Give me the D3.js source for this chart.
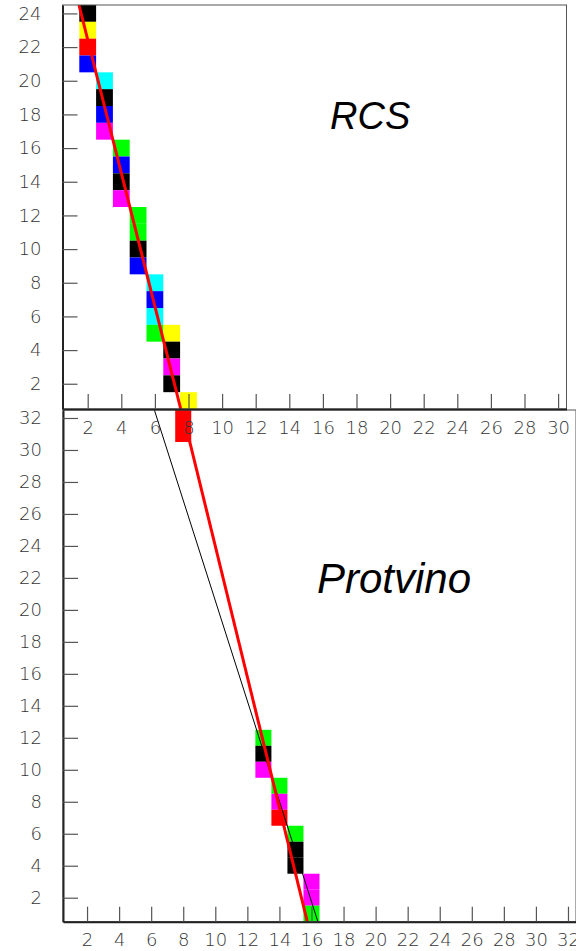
<!DOCTYPE html>
<html>
<head>
<meta charset="utf-8">
<script src="https://cdn.jsdelivr.net/npm/d3@7"></script>
<style>
  body { margin: 0; background: #fff; }
  svg { display: block; }
  .tick text { font-family: "DejaVu Sans", sans-serif; font-weight: 200; font-size: 18px; fill: #333; }
</style>
</head>
<body>
<svg id="chart" width="576" height="951"></svg>
<script>
// ROOT colour indices: 1 black, 2 red, 3 green, 4 blue, 5 yellow, 6 magenta, 7 cyan
const rootColors = {1: "#000000", 2: "#ff0000", 3: "#00ff00", 4: "#0000ff", 5: "#ffff00", 6: "#ff00ff", 7: "#00ffff"};

// RCS panel cells
const rcsCol = [2, 2, 2, 2, 3, 3, 3, 3, 4, 4, 4, 4, 5, 5, 5, 5, 6, 6, 6, 6, 7, 7, 7, 7, 8];
const rcsRow = [24, 23, 22, 21, 20, 19, 18, 17, 16, 15, 14, 13, 12, 11, 10, 9, 8, 7, 6, 5, 5, 4, 3, 2, 1];
const rcsColor = [1, 5, 2, 4, 7, 1, 4, 6, 3, 4, 1, 6, 3, 3, 1, 4, 7, 4, 7, 3, 5, 1, 6, 1, 5];
const rcsFitX = [1.48, 7.54];
const rcsFitY = [24.5, 0.5];

// Protvino panel cells
const proCol = [8, 8, 13, 13, 13, 14, 14, 14, 15, 15, 15, 16, 16, 16];
const proRow = [32, 31, 12, 11, 10, 9, 8, 7, 6, 5, 4, 3, 2, 1];
const proColor = [2, 2, 3, 1, 6, 3, 6, 2, 3, 1, 1, 6, 6, 3];
const proFitX = [7.92, 15.74];
const proFitY = [32.5, 0.5];
const proLineX = [6.2, 16.4];
const proLineY = [32.5, 0.5];

const rcsXTicks = d3.range(2, 31, 2);
const rcsYTicks = d3.range(2, 25, 2);
const proXTicks = d3.range(2, 33, 2);
const proYTicks = d3.range(2, 33, 2);

const svg = d3.select("#chart");

function panel(opt) {
  const x = d3.scaleLinear().domain(opt.xDomain).range([opt.left, opt.right]);
  const y = d3.scaleLinear().domain(opt.yDomain).range([opt.bottom, opt.top]);
  const g = svg.append("g");

  const clipId = "clip-" + opt.name;
  g.append("clipPath").attr("id", clipId)
    .append("rect")
    .attr("x", opt.left).attr("y", opt.top)
    .attr("width", opt.right - opt.left).attr("height", opt.bottom - opt.top);

  const plot = g.append("g").attr("clip-path", `url(#${clipId})`);

  const cells = opt.cols.map((c, i) => ({c, r: opt.rows[i], k: opt.colors[i]}));
  plot.selectAll("rect.cell")
    .data(cells)
    .join("rect")
    .attr("class", "cell")
    .attr("x", d => x(d.c - 0.5))
    .attr("y", d => y(d.r + 0.5))
    .attr("width", d => x(d.c + 0.5) - x(d.c - 0.5))
    .attr("height", d => y(d.r - 0.5) - y(d.r + 0.5))
    .attr("fill", d => rootColors[d.k]);

  const line = d3.line().x(d => x(d[0])).y(d => y(d[1]));
  (opt.lines || []).forEach(l => {
    plot.append("path")
      .datum(l.xs.map((v, i) => [v, l.ys[i]]))
      .attr("d", line)
      .attr("fill", "none")
      .attr("stroke", l.color)
      .attr("stroke-width", l.width);
  });

  // frame
  g.append("rect")
    .attr("x", opt.left).attr("y", opt.top)
    .attr("width", opt.right - opt.left).attr("height", opt.bottom - opt.top)
    .attr("fill", "none").attr("stroke", "#555").attr("stroke-width", 1);

  const yAxis = g.append("g")
    .attr("transform", `translate(${opt.left},0)`)
    .call(d3.axisLeft(y).tickValues(opt.yTicks).tickSizeInner(-15).tickSizeOuter(0).tickPadding(21));
  const xAxis = g.append("g")
    .attr("transform", `translate(0,${opt.bottom})`)
    .call(d3.axisBottom(x).tickValues(opt.xTicks).tickSizeInner(-15).tickSizeOuter(0).tickPadding(opt.xPad));
  [yAxis, xAxis].forEach(a => {
    a.select(".domain").attr("stroke", "#222").attr("stroke-width", 2);
    a.selectAll(".tick line").attr("stroke", "#555").attr("stroke-width", 1.2);
  });

  g.append("text")
    .attr("x", opt.titleX).attr("y", opt.titleY)
    .attr("font-family", "'Liberation Sans', Arial, sans-serif")
    .attr("font-style", "italic")
    .attr("font-size", opt.titleSize)
    .attr("fill", "#000")
    .text(opt.name);
}

panel({
  name: "Protvino",
  xDomain: [0.5, 32.5], yDomain: [0.5, 32.5],
  left: 63, right: 576, top: 410, bottom: 921.7,
  cols: proCol, rows: proRow, colors: proColor,
  lines: [
    {xs: proLineX, ys: proLineY, color: "#000", width: 1},
    {xs: proFitX, ys: proFitY, color: "#ff0000", width: 3}
  ],
  xTicks: proXTicks, yTicks: proYTicks, xPad: 11.5,
  titleX: 317, titleY: 593, titleSize: 42
});

panel({
  name: "RCS",
  xDomain: [0.5, 30.5], yDomain: [0.5, 24.5],
  left: 62.5, right: 566.5, top: 5, bottom: 409,
  cols: rcsCol, rows: rcsRow, colors: rcsColor,
  lines: [{xs: rcsFitX, ys: rcsFitY, color: "#ff0000", width: 3}],
  xTicks: rcsXTicks, yTicks: rcsYTicks, xPad: 12,
  titleX: 330, titleY: 129, titleSize: 38
});
</script>
</body>
</html>
